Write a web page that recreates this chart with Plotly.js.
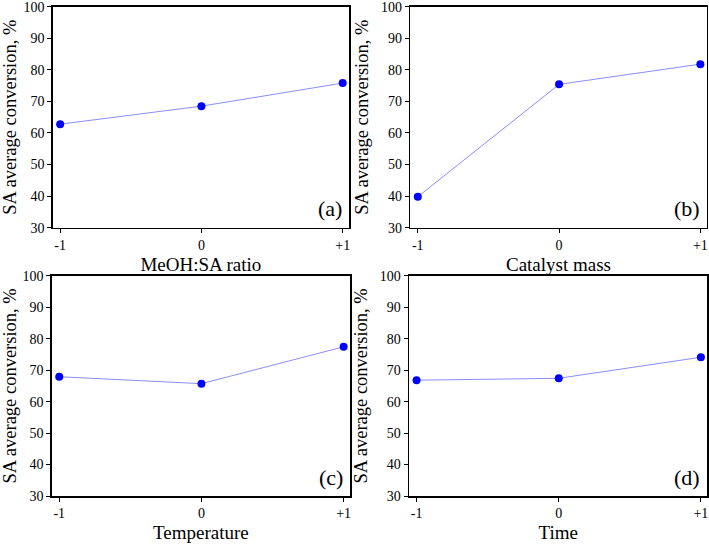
<!DOCTYPE html>
<html>
<head>
<meta charset="utf-8">
<script src="https://cdn.plot.ly/plotly-3.0.1.min.js"></script>
<style>html,body{margin:0;padding:0;background:#fff;}#chart{width:709px;height:545px;}</style>
</head>
<body>
<div id="chart"></div>
<script>
// Data
const levels = [-1, 0, 1];
const levelLabels = ['-1', '0', '+1'];
const yTicks = [30, 40, 50, 60, 70, 80, 90, 100];
const panelNames = ['(a)', '(b)', '(c)', '(d)'];
const factorNames = ['MeOH:SA ratio', 'Catalyst mass', 'Temperature', 'Time'];
const meohRatio = [62.8, 68.5, 75.8];
const catalystMass = [39.8, 75.4, 81.8];
const temperature = [67.9, 65.7, 77.4];
const time = [66.8, 67.4, 74.1];
const yTitle = 'SA average conversion, %';

const series = [meohRatio, catalystMass, temperature, time];
const FONT = 'Liberation Serif, Times New Roman, serif';

const xDomains = [[0.0743, 0.4923], [0.5787, 0.9968], [0.0729, 0.4937], [0.5769, 0.9976]];
const yDomains = [[0.5822, 0.9877], [0.5822, 0.9877], [0.0899, 0.4941], [0.0899, 0.4941]];

const traces = [];
const layout = {
  width: 709, height: 545,
  margin: {l: 0, r: 0, t: 0, b: 0},
  paper_bgcolor: '#fff', plot_bgcolor: '#fff',
  showlegend: false,
  font: {family: FONT, color: '#000'},
  annotations: []
};

series.forEach((vals, i) => {
  const n = i + 1;
  const xa = n === 1 ? 'x' : 'x' + n;
  const ya = n === 1 ? 'y' : 'y' + n;
  traces.push({
    x: levels, y: vals, xaxis: xa, yaxis: ya,
    type: 'scatter', mode: 'lines+markers',
    line: {color: '#8c8cff', width: 1},
    marker: {color: '#0000ff', size: 8},
    cliponaxis: false
  });
  const xk = n === 1 ? 'xaxis' : 'xaxis' + n;
  const yk = n === 1 ? 'yaxis' : 'yaxis' + n;
  layout[xk] = {
    domain: xDomains[i], anchor: ya,
    range: [-1.053, 1.045],
    tickvals: levels, ticktext: levelLabels,
    ticks: 'outside', ticklen: 4, tickwidth: 1, tickcolor: '#000',
    showline: true, linecolor: '#000', linewidth: 1.5, mirror: true,
    showgrid: false, zeroline: false,
    ticklabeloverflow: 'allow',
    tickfont: {family: FONT, size: 14, color: '#000'},
    title: {text: factorNames[i], font: {family: FONT, size: 19, color: '#000'}, standoff: 5}
  };
  layout[yk] = {
    domain: yDomains[i], anchor: xa,
    range: [30, 100],
    tickvals: yTicks,
    ticks: 'outside', ticklen: 4, tickwidth: 1, tickcolor: '#000',
    showline: true, linecolor: '#000', linewidth: 1.5, mirror: true,
    showgrid: false, zeroline: false,
    ticklabeloverflow: 'allow',
    tickfont: {family: FONT, size: 14, color: '#000'},
    title: {text: yTitle, font: {family: FONT, size: 18.5, color: '#000'}, standoff: 7}
  };
  layout.annotations.push({
    xref: xa, yref: ya, x: 1.01, y: 36,
    xanchor: 'right', yanchor: 'middle',
    text: panelNames[i], showarrow: false,
    font: {family: FONT, size: 22, color: '#000'}
  });
});

Plotly.newPlot('chart', traces, layout, {displayModeBar: false, staticPlot: true});
</script>
</body>
</html>
